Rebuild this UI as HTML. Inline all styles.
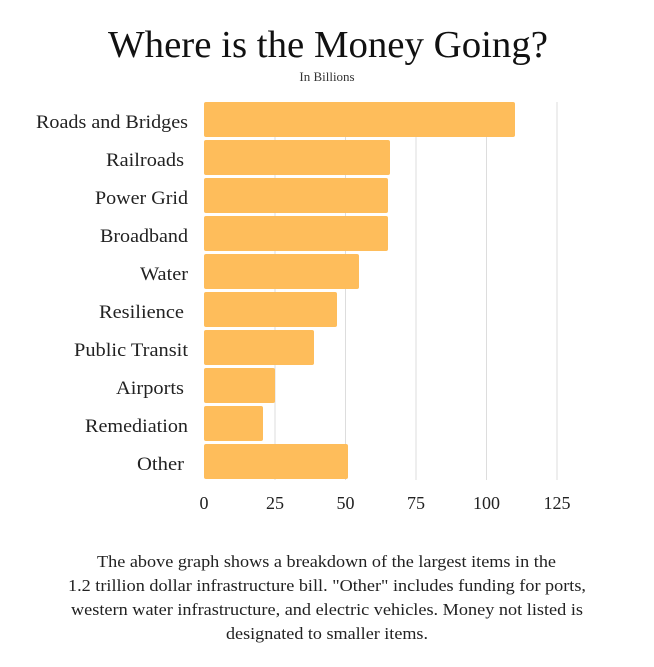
<!DOCTYPE html>
<html><head><style>
body{margin:0;width:654px;height:667px;background:#fff;font-family:"Liberation Serif",serif;color:#222;}
</style></head><body>
<svg width="654" height="667" xmlns="http://www.w3.org/2000/svg" style="position:absolute;left:0;top:0">
<text x="108" y="57" textLength="440" lengthAdjust="spacingAndGlyphs" font-size="38" font-family="Liberation Serif" fill="#111">Where is the Money Going?</text>
<text x="327" y="81" text-anchor="middle" font-size="13" font-family="Liberation Serif" fill="#333">In Billions</text>
<g stroke="#ddd" stroke-width="1">
<line x1="275" y1="102" x2="275" y2="480"/><line x1="345.5" y1="102" x2="345.5" y2="480"/>
<line x1="416" y1="102" x2="416" y2="480"/><line x1="486.5" y1="102" x2="486.5" y2="480"/>
<line x1="557" y1="102" x2="557" y2="480"/>
</g>
<g fill="#FEBD5B">
<rect x="204" y="102" width="311" height="35" rx="2"/>
<rect x="204" y="140" width="186" height="35" rx="2"/>
<rect x="204" y="178" width="184" height="35" rx="2"/>
<rect x="204" y="216" width="184" height="35" rx="2"/>
<rect x="204" y="254" width="155" height="35" rx="2"/>
<rect x="204" y="292" width="133" height="35" rx="2"/>
<rect x="204" y="330" width="110" height="35" rx="2"/>
<rect x="204" y="368" width="71" height="35" rx="2"/>
<rect x="204" y="406" width="59" height="35" rx="2"/>
<rect x="204" y="444" width="144" height="35" rx="2"/>
</g>
<g font-size="19" font-family="Liberation Serif" fill="#222" lengthAdjust="spacingAndGlyphs">
<text x="36" y="128" textLength="152" lengthAdjust="spacingAndGlyphs">Roads and Bridges</text>
<text x="106" y="166" textLength="78" lengthAdjust="spacingAndGlyphs">Railroads</text>
<text x="95" y="204" textLength="93" lengthAdjust="spacingAndGlyphs">Power Grid</text>
<text x="100" y="242" textLength="88" lengthAdjust="spacingAndGlyphs">Broadband</text>
<text x="140" y="280" textLength="48" lengthAdjust="spacingAndGlyphs">Water</text>
<text x="99" y="318" textLength="85" lengthAdjust="spacingAndGlyphs">Resilience</text>
<text x="74" y="356" textLength="114" lengthAdjust="spacingAndGlyphs">Public Transit</text>
<text x="116" y="394" textLength="68" lengthAdjust="spacingAndGlyphs">Airports</text>
<text x="85" y="432" textLength="103" lengthAdjust="spacingAndGlyphs">Remediation</text>
<text x="137" y="470" textLength="47" lengthAdjust="spacingAndGlyphs">Other</text>
</g>
<g font-size="18" text-anchor="middle" font-family="Liberation Serif" fill="#222">
<text x="204" y="509">0</text><text x="275" y="509">25</text><text x="345.5" y="509">50</text>
<text x="416" y="509">75</text><text x="486.5" y="509">100</text><text x="557" y="509">125</text>
</g>
<g font-size="17" font-family="Liberation Serif" fill="#222">
<text x="97" y="567" textLength="459" lengthAdjust="spacingAndGlyphs">The above graph shows a breakdown of the largest items in the</text>
<text x="68" y="591" textLength="518" lengthAdjust="spacingAndGlyphs">1.2 trillion dollar infrastructure bill. "Other" includes funding for ports,</text>
<text x="71" y="615" textLength="512" lengthAdjust="spacingAndGlyphs">western water infrastructure, and electric vehicles. Money not listed is</text>
<text x="226" y="639" textLength="202" lengthAdjust="spacingAndGlyphs">designated to smaller items.</text>
</g>
</svg>
</body></html>
